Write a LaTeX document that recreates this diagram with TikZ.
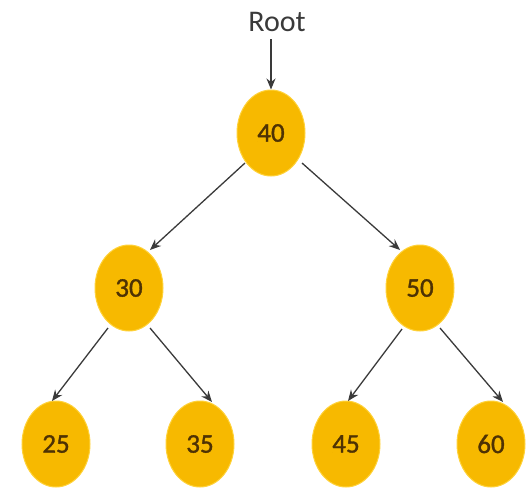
\documentclass[tikz,border=0pt]{standalone}
\usepackage{fontspec}
\setmainfont{Carlito}
\newfontfamily\numfont[FakeBold=1.2]{Carlito}
\usetikzlibrary{arrows.meta,shapes.geometric}
\definecolor{nodefill}{HTML}{F7B900}
\definecolor{noderim}{HTML}{FFD23A}
\definecolor{numtext}{HTML}{4E3204}
\definecolor{edgegray}{HTML}{3A3A3A}
\tikzset{
  treenode/.style={ellipse, fill=nodefill, draw=noderim, line width=1pt,
    minimum width=68pt, minimum height=86pt, inner sep=0pt,
    text=numtext, font=\numfont\fontsize{27}{27}\selectfont},
  link/.style={draw=edgegray, line width=1.3pt,
    -{Stealth[length=11pt,width=9pt]}}
}
\begin{document}
\begin{tikzpicture}[x=1pt,y=-1pt]
\useasboundingbox (0,0) rectangle (527,491);
% root label
\node[text=edgegray, font=\fontsize{30}{30}\selectfont] (rootlbl) at (277,22) {Root};
% nodes
\node[treenode] (n40) at (271,133) {40};
\node[treenode] (n30) at (129,288) {30};
\node[treenode] (n50) at (420,288) {50};
\node[treenode] (n25) at (56,444) {25};
\node[treenode] (n35) at (200,444) {35};
\node[treenode] (n45) at (346,444) {45};
\node[treenode] (n60) at (491,444) {60};
% connectors
\coordinate (rtop) at ([shift={(-6,4)}]rootlbl.south);
\draw[link] (rtop) -- (n40.north);
\draw[link] ([shift={(-26,30)}]n40.center) -- ([shift={(21,-38)}]n30.center);
\draw[link] ([shift={(31,30)}]n40.center) -- ([shift={(-20,-38)}]n50.center);
\draw[link] ([shift={(-21,40)}]n30.center) -- ([shift={(-4,-43)}]n25.center);
\draw[link] ([shift={(21,40)}]n30.center) -- ([shift={(12,-42)}]n35.center);
\draw[link] ([shift={(-18,41)}]n50.center) -- ([shift={(2,-43)}]n45.center);
\draw[link] ([shift={(20,40)}]n50.center) -- ([shift={(12,-42)}]n60.center);
\end{tikzpicture}
\end{document}
